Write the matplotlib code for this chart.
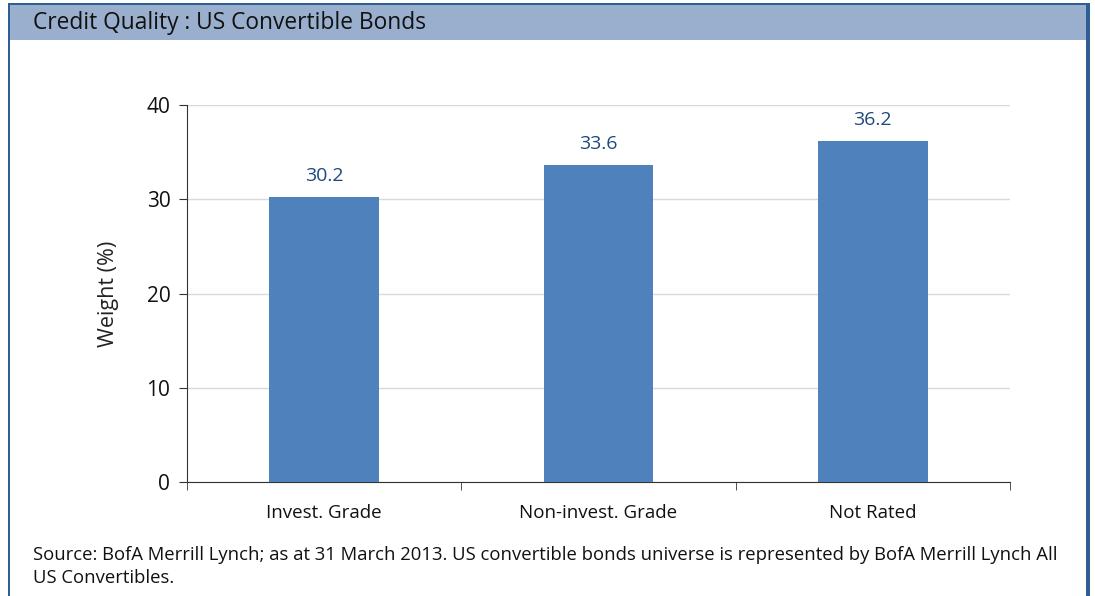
import matplotlib
matplotlib.use("Agg")
import matplotlib.pyplot as plt
from matplotlib.patches import Rectangle
from matplotlib import font_manager

categories = ["Invest. Grade", "Non-invest. Grade", "Not Rated"]
weights = [30.2, 33.6, 36.2]
yticks = [0, 10, 20, 30, 40]

names = {f.name for f in font_manager.fontManager.ttflist}
fam = "Liberation Sans Narrow" if "Liberation Sans Narrow" in names else "Open Sans"
plt.rcParams["font.family"] = [fam, "DejaVu Sans"]

W, H = 1095, 596
fig = plt.figure(figsize=(W / 100, H / 100), dpi=100)

def fx(px):
    return px / W

def fy(py):
    return 1 - py / H

border = "#2e5f94"
# header band and frame
fig.patches.append(Rectangle((fx(9), fy(40)), fx(1078), 35 / H, transform=fig.transFigure,
                             facecolor="#9aafcd", edgecolor="none"))
fig.patches.append(Rectangle((fx(8), fy(5)), fx(1082), 2 / H, transform=fig.transFigure,
                             facecolor=border, edgecolor="none"))
fig.patches.append(Rectangle((fx(8), 0), fx(2), fy(4), transform=fig.transFigure,
                             facecolor=border, edgecolor="none"))
fig.patches.append(Rectangle((fx(1086), 0), fx(4), fy(4), transform=fig.transFigure,
                             facecolor=border, edgecolor="none"))

fig.text(fx(33), fy(23), "Credit Quality : US Convertible Bonds", fontsize=16.4,
         va="center", ha="left", color="#111111")

ax = fig.add_axes([fx(187), fy(482), fx(1010 - 187), (482 - 105) / H])
x = list(range(len(categories)))
bars = ax.bar(x, weights, width=0.4, color="#4f81bd", zorder=3)
for xi, v in zip(x, weights):
    ax.text(xi, v + 1.3, f"{v:.1f}", ha="center", va="bottom", fontsize=14, color="#1f497d")

ax.set_xlim(-0.5, 2.5)
ax.set_ylim(0, 40)
ax.set_yticks(yticks)
ax.set_xticks(x)
ax.set_xticklabels(categories, fontsize=13.5, color="#111111")
ax.set_xticks([-0.5, 0.5, 1.5, 2.5], minor=True)
ax.tick_params(axis="x", which="major", length=0, pad=16)
ax.tick_params(axis="x", which="minor", length=6, direction="out", color="#333333")
ax.tick_params(axis="y", length=6, direction="out", labelsize=15, color="#333333",
               labelcolor="#111111", pad=6)
ax.grid(axis="y", color="#d9d9d9", linewidth=1, zorder=0)
for s in ["top", "right"]:
    ax.spines[s].set_visible(False)
ax.spines["left"].set_color("#333333")
ax.spines["bottom"].set_color("#333333")
ax.set_ylabel("Weight (%)", fontsize=15.5, color="#222222", labelpad=20)

fig.text(fx(33), fy(555), "Source: BofA Merrill Lynch; as at 31 March 2013. US convertible bonds universe is represented by BofA Merrill Lynch All",
         fontsize=13.3, va="center", ha="left", color="#111111")
fig.text(fx(33), fy(578), "US Convertibles.", fontsize=13.3, va="center", ha="left", color="#111111")

fig.savefig("out.png", dpi=100)
